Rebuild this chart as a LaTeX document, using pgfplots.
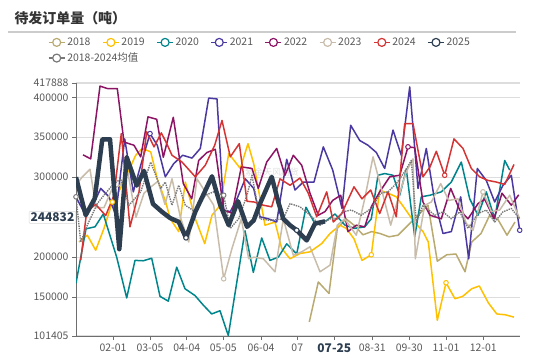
\documentclass[border=0pt]{standalone}
\usepackage{pgfplots}
\pgfplotsset{compat=1.18}
\usepackage{fontspec}
\setmainfont{Noto Sans CJK SC}
\definecolor{c2018}{RGB}{184,170,112}
\definecolor{c2019}{RGB}{255,192,0}
\definecolor{c2020}{RGB}{0,133,140}
\definecolor{c2021}{RGB}{75,56,160}
\definecolor{c2022}{RGB}{140,20,100}
\definecolor{c2023}{RGB}{200,188,170}
\definecolor{c2024}{RGB}{212,52,52}
\definecolor{c2025}{RGB}{44,62,80}
\definecolor{cavg}{RGB}{120,120,120}
\definecolor{tickc}{RGB}{89,89,89}
\definecolor{gridc}{RGB}{221,221,221}
\definecolor{axisc}{RGB}{110,110,110}
\begin{document}
\begin{tikzpicture}
\useasboundingbox (0,0) rectangle (550bp,356bp);
\node[anchor=west, font=\bfseries\fontsize{14}{16}\selectfont, text=black!80] at (11bp,338bp) {待发订单量（吨）};
\draw[gray!40, line width=1.2bp] (8bp,324bp) -- (516bp,324bp);
\begin{axis}[
  at={(76bp,20bp)}, anchor=south west,
  scale only axis, width=444bp, height=253bp,
  xmin=76, xmax=520, ymin=101405, ymax=417888,
  scaled y ticks=false, scaled x ticks=false,
  axis x line*=bottom, axis y line*=left,
  axis line style={draw=axisc, line width=1bp, -},
  tick align=outside, major tick length=4bp,
  tick style={draw=axisc, line width=0.8bp},
  xtick={113,150,186.7,223.3,261,297.3,334.3,372.3,409.3,446,483.3},
  xticklabels={02-01,03-05,04-04,05-05,06-04,07,{\bfseries\fontsize{12}{14}\selectfont\color{c2025}07-25},08-31,09-30,11-01,12-01},
  ytick={101405,150000,200000,250000,300000,350000,400000,417888},
  yticklabels={101405,150000,200000,,300000,350000,400000,417888},
  extra y ticks={244832},
  extra y tick labels={244832},
  extra y tick style={grid=none, major tick length=0pt,
     yticklabel style={draw=gray!30, fill=white, rounded corners=1bp, text=c2025,
       font=\bfseries\fontsize{12}{14}\selectfont, inner sep=1.5bp, yshift=4bp}},
  ymajorgrids, grid style={draw=gridc, line width=1.2bp},
  ticklabel style={font=\fontsize{10.5}{12}\selectfont, text=tickc},
  legend columns=8,
  legend style={at={(-0.07,1.195)}, anchor=north west, draw=none, fill=none,
    font=\fontsize{10.5}{12}\selectfont, text=tickc, row sep=2bp,
    /tikz/every even column/.append style={column sep=0bp}},
  legend cell align=left,
  legend image code/.code={\draw[#1, mark repeat=2, mark phase=2] plot coordinates {(0bp,0bp) (8bp,0bp) (16bp,0bp)};},
  every axis plot/.append style={line join=round},
  clip=true,
]
\addlegendimage{c2018, line width=1.2bp, mark=*, mark size=4bp, mark options={fill=white, solid}}
\addlegendentry{\makebox[33bp][l]{2018}}
\addlegendimage{c2019, line width=1.2bp, mark=*, mark size=4bp, mark options={fill=white, solid}}
\addlegendentry{\makebox[33bp][l]{2019}}
\addlegendimage{c2020, line width=1.2bp, mark=*, mark size=4bp, mark options={fill=white, solid}}
\addlegendentry{\makebox[33bp][l]{2020}}
\addlegendimage{c2021, line width=1.2bp, mark=*, mark size=4bp, mark options={fill=white, solid}}
\addlegendentry{\makebox[33bp][l]{2021}}
\addlegendimage{c2022, line width=1.2bp, mark=*, mark size=4bp, mark options={fill=white, solid}}
\addlegendentry{\makebox[33bp][l]{2022}}
\addlegendimage{c2023, line width=1.2bp, mark=*, mark size=4bp, mark options={fill=white, solid}}
\addlegendentry{\makebox[33bp][l]{2023}}
\addlegendimage{c2024, line width=1.2bp, mark=*, mark size=4bp, mark options={fill=white, solid}}
\addlegendentry{\makebox[33bp][l]{2024}}
\addlegendimage{c2025, line width=1.2bp, mark=*, mark size=4bp, mark options={fill=white, solid}}
\addlegendentry{\makebox[33bp][l]{2025}}
\addlegendimage{cavg, line width=1.2bp, mark=*, mark size=4bp, mark options={fill=white, solid}}
\addlegendentry{\makebox[0pt][l]{2018-2024均值}}

\node[text=gray, opacity=0.25, font=\fontsize{9}{10}\selectfont] at (axis cs:272,306000) {紫金天风期货};

% 2018
\addplot[c2018, line width=1.5bp, forget plot] coordinates {
(309.3,119000)(318.3,169000)(329,154600)(337.3,236000)(346,248000)(354,240000)(363,228000)(371.7,232000)(380,229600)(389,225500)(398,227500)(408,240000)(418,252500)(428,265000)(437.3,195000)(446.7,203000)(456,204000)(465,181700)(471.7,219000)(481,229600)(489.7,252500)(498,247000)(507,227500)(515,244000)};
% 2019
\addplot[c2019, line width=1.5bp, forget plot] coordinates {
(79,219000)(87.3,227500)(95.7,208700)(104,236000)(112.3,269000)(120,285000)(127.3,304600)(135.7,327500)(142.3,336000)(150.7,331700)(157.3,298000)(165.7,269000)(170.3,248000)(178.7,232000)(185.3,294000)(195.3,248000)(204.7,217000)(212,252500)(220.3,265000)(228.7,329600)(240.3,311000)(248,342000)(253.7,317000)(265,240000)(275,244000)(281.7,211000)(290,198000)(300,204600)(310,206700)(321.7,217000)(330,229600)(340,240000)(346.3,236000)(354,223000)(362,196000)(371.3,203000)(379.7,284000)(388,280000)(396.3,275500)(404.7,261000)(413,246000)(423,232000)(428.3,219000)(437.3,121000)(446,168000)(455,148000)(462.7,151000)(471.7,160500)(479.3,164000)(488.3,143000)(496.7,129000)(505,128000)(514,125000)};
% 2020
\addplot[c2020, line width=1.5bp, forget plot] coordinates {
(76,167500)(86,235500)(95,238000)(103.3,254000)(116.7,200000)(126.7,149000)(135,196000)(143.3,195500)(151.7,198700)(160,151000)(168.3,145000)(176.7,187500)(185,160500)(195,152000)(203.3,140000)(211.7,129000)(220,133000)(228.3,102000)(245,233000)(253.3,181000)(261.7,224000)(270,196000)(278.3,200000)(286.7,216700)(296.7,204000)(306,262500)(315,241700)(326.7,246000)(335,254000)(345,240000)(354.7,236000)(364.7,238000)(371.3,248000)(378,302500)(384.7,304600)(393,302500)(399.7,277500)(406.3,310000)(414.7,225500)(421.3,275500)(430,277500)(441.3,281700)(451.3,294000)(461.3,319000)(469.7,273000)(478,252500)(486.3,281700)(494.7,248000)(504.7,321000)(509.7,309000)};
% 2021
\addplot[c2021, line width=1.5bp, forget plot] coordinates {
(76,275000)(85.7,252500)(93,265000)(100.7,286000)(109,275500)(115.7,252500)(124.7,348000)(133.3,281700)(140.7,315000)(150,354600)(157.3,340000)(165.3,300500)(173.7,317000)(182.7,327500)(192,324000)(200.3,336000)(208.7,399000)(217,398000)(223.7,259000)(230.3,257000)(237,273000)(245.3,298000)(253.7,286000)(260,250500)(268.3,248000)(276.7,244000)(286.7,322500)(295,284000)(303.3,294000)(314,294000)(323.3,338000)(332.7,309000)(342,261000)(350.7,365000)(359.7,346000)(368,340000)(376.3,331000)(384.7,311000)(393,359000)(401.3,327500)(409.7,413000)(418,286000)(426.3,336000)(434.7,270000)(443,229600)(451.3,232000)(460.7,275500)(468.7,198000)(477.3,311000)(486.3,296000)(494.7,269000)(503,290000)(511.3,302500)(519.7,233700)};
% 2022
\addplot[c2022, line width=1.5bp, forget plot] coordinates {
(83,328000)(90.7,323000)(100,414000)(107.3,411000)(117.3,411000)(124,344000)(134,340000)(140.7,325500)(148,375500)(156.7,372500)(163.3,325000)(173.3,375000)(183.3,292000)(191.7,273000)(198.7,321000)(207,331000)(215.3,335000)(223.7,259000)(232,255000)(241.3,313000)(252,311000)(258.3,286000)(266.7,319000)(276.7,336000)(285,302500)(293.3,327500)(301.7,315000)(310,280000)(318.3,252500)(325,257000)(332.7,271000)(340.7,277500)(348,232000)(356.3,240000)(364.7,238000)(371.3,263000)(379.7,281700)(389.7,300500)(399.7,302500)(408,338000)(414.7,337000)(423,269000)(430,252500)(441.3,248000)(450.7,286000)(459.7,259000)(468,248000)(478,267000)(484.7,272500)(494,248000)(502,280000)(511.3,265000)(518.7,278000)};
% 2023
\addplot[c2023, line width=1.5bp, forget plot] coordinates {
(76,290000)(82,300000)(90,310000)(96,262000)(104,262000)(112,285000)(120,290000)(128,305000)(136,250000)(144,280000)(150,287000)(158,295000)(165,266000)(172,298000)(180.3,250500)(188.7,219000)(197,298000)(205.3,281700)(213.7,265000)(223.7,173000)(232,211000)(241.3,248000)(248.7,198000)(254,200000)(263.3,198000)(275,181700)(283.3,248000)(293.3,202500)(301.7,206700)(310,213000)(320,181700)(330,190000)(337.3,240000)(344.7,248000)(356.3,227500)(364.7,273000)(373,325500)(381.3,286000)(390.7,240000)(398,273000)(406.3,307000)(413,323000)(415.3,198000)(424.7,265000)(431.3,269000)(440.7,292000)(448.7,271000)(458,273000)(466.3,242000)(473,233700)(483,281700)(491.3,257000)(499.7,259000)(509.7,277500)(519.7,248000)};
% 2024
\addplot[c2024, line width=1.5bp, forget plot] coordinates {
(80.7,196000)(86.7,257000)(95.7,266000)(105.7,252000)(114,277500)(121.3,354600)(130,238000)(139,281700)(146.7,357000)(154,338000)(161.3,355500)(166,344000)(172,327500)(182,319000)(195.3,300500)(205.3,315000)(214.7,340000)(222,371000)(230.3,325500)(239.3,342000)(247,270000)(254,269000)(263.3,265000)(271.7,263000)(280,298000)(290,290000)(300,299000)(308.3,280000)(316.7,250500)(326.7,281700)(333.3,244000)(341.7,254600)(354,288000)(362,273000)(370.7,284000)(379.7,254600)(388,281700)(396.3,250500)(404.7,367000)(413,367000)(423,300500)(430,313000)(436.3,332500)(444.7,302500)(454,348000)(463,336000)(471.3,311000)(479.7,300500)(488,296000)(496.3,294000)(504.7,291000)(514,316000)};
% average 2018-2024
\addplot[cavg, line width=1.4bp, densely dotted, forget plot] coordinates {
(76,275500)(80.7,219000)(87.3,240000)(97.3,267000)(104,277500)(112.3,290000)(120.7,298000)(129,265000)(140.7,281700)(150.7,319000)(160.7,286000)(165.3,294000)(172,265000)(178.7,290000)(185.3,265000)(195.3,256700)(205.3,277500)(213.7,281700)(223.7,277500)(230.3,236000)(238.7,248000)(247,277500)(252,302500)(260,248000)(270,246000)(283.3,248000)(290,267000)(300,263000)(310,252500)(320,240000)(330,248000)(338.3,248000)(343,256700)(351.3,259000)(361.3,252500)(371.3,261000)(380.7,280000)(388,281700)(396.3,292000)(404.7,307000)(411.3,321000)(416.3,244000)(423,265000)(434.7,252500)(443,256700)(451.3,248000)(459.7,256700)(468,236000)(478,254600)(486.3,259000)(494.7,244000)(503,256700)(511.3,261000)(519.7,248000)};
% 2025
\addplot[c2025, line width=4.5bp, forget plot] coordinates {
(76,300000)(85.7,252500)(94.7,273400)(102.3,347500)(110,347500)(119.3,210000)(126.7,325000)(136.7,289600)(144,308000)(153,266600)(162,256700)(170,249000)(178.7,244200)(186,224200)(195.3,256700)(203.7,279000)(212,301200)(220.3,265000)(228.7,240000)(238,270000)(247,238000)(253.7,246000)(260,267000)(271.7,300500)(278.3,269000)(283.3,248000)(290,240000)(296.7,233700)(306.7,221000)(315,242000)(325,244832)};
% symbols
\addplot[only marks, mark=*, mark size=2.3bp, c2019, mark options={fill=white, line width=1bp}, forget plot] coordinates {(112.3,269000)(371.3,203000)(446,168000)};
\addplot[only marks, mark=*, mark size=2.3bp, c2021, mark options={fill=white, line width=1bp}, forget plot] coordinates {(150,354600)(519.7,233700)};
\addplot[only marks, mark=*, mark size=2.3bp, c2022, mark options={fill=white, line width=1bp}, forget plot] coordinates {(408,338000)};
\addplot[only marks, mark=*, mark size=2.3bp, c2023, mark options={fill=white, line width=1bp}, forget plot] coordinates {(223.7,173000)(483,281700)};
\addplot[only marks, mark=*, mark size=2.3bp, c2024, mark options={fill=white, line width=1bp}, forget plot] coordinates {(444.7,302500)};
\addplot[only marks, mark=*, mark size=2.3bp, cavg, mark options={fill=white, line width=1bp}, forget plot] coordinates {(76,275500)(223.7,277500)};
\addplot[only marks, mark=*, mark size=2.3bp, c2025, mark options={fill=white, line width=1bp}, forget plot] coordinates {(186,224200)(296.7,233700)};
\end{axis}
\end{tikzpicture}
\end{document}
